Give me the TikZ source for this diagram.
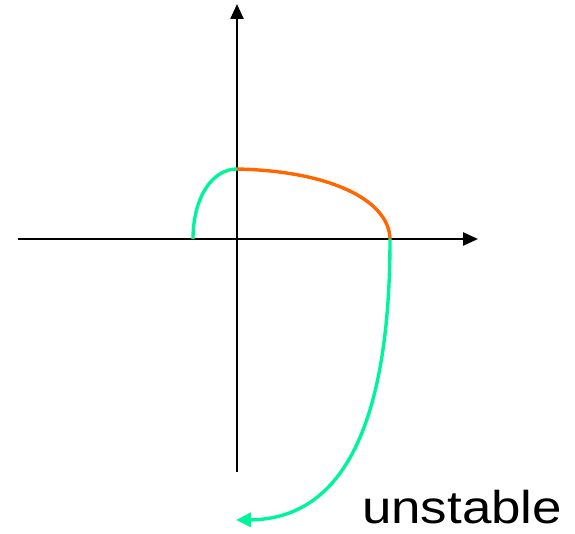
\documentclass[tikz,border=0pt]{standalone}
\usepackage{fontspec}
\setmainfont{Liberation Sans}
\usetikzlibrary{arrows.meta}
\definecolor{springgreen}{RGB}{0,245,155}
\definecolor{hotorange}{RGB}{255,102,0}

\begin{document}
\begin{tikzpicture}[x=1pt,y=-1pt,
  axis/.style={black, line width=2.4pt, -{Triangle[length=15pt,width=13pt]}},
  stablepath/.style={springgreen, line width=3.4pt},
  limitpath/.style={hotorange, line width=3.4pt}]
\useasboundingbox (0,0) rectangle (575,534);
\coordinate (xl) at (18,239);
\coordinate (xr) at (478,239);
\coordinate (yb) at (237,472);
\coordinate (yt) at (237,4);
\coordinate (start) at (193,239);
\coordinate (top) at (237,169);
\coordinate (cross) at (390,239);
\coordinate (stop) at (236,520);
\draw[axis] (xl) -- (xr);
\draw[axis] (yb) -- (yt);
\draw[stablepath] (start) .. controls (193,198) and (212,169) .. (top);
\draw[limitpath] (top) .. controls (330,171) and (389,200) .. (cross);
\draw[stablepath, -{Triangle[length=15pt,width=14pt]}] (cross) .. controls (390,420) and (345,519) .. (stop);
\node[font=\fontsize{46}{55}\selectfont, anchor=base west, xscale=1.15] (lbl) at (358,523) {unstable};
\end{tikzpicture}
\end{document}
